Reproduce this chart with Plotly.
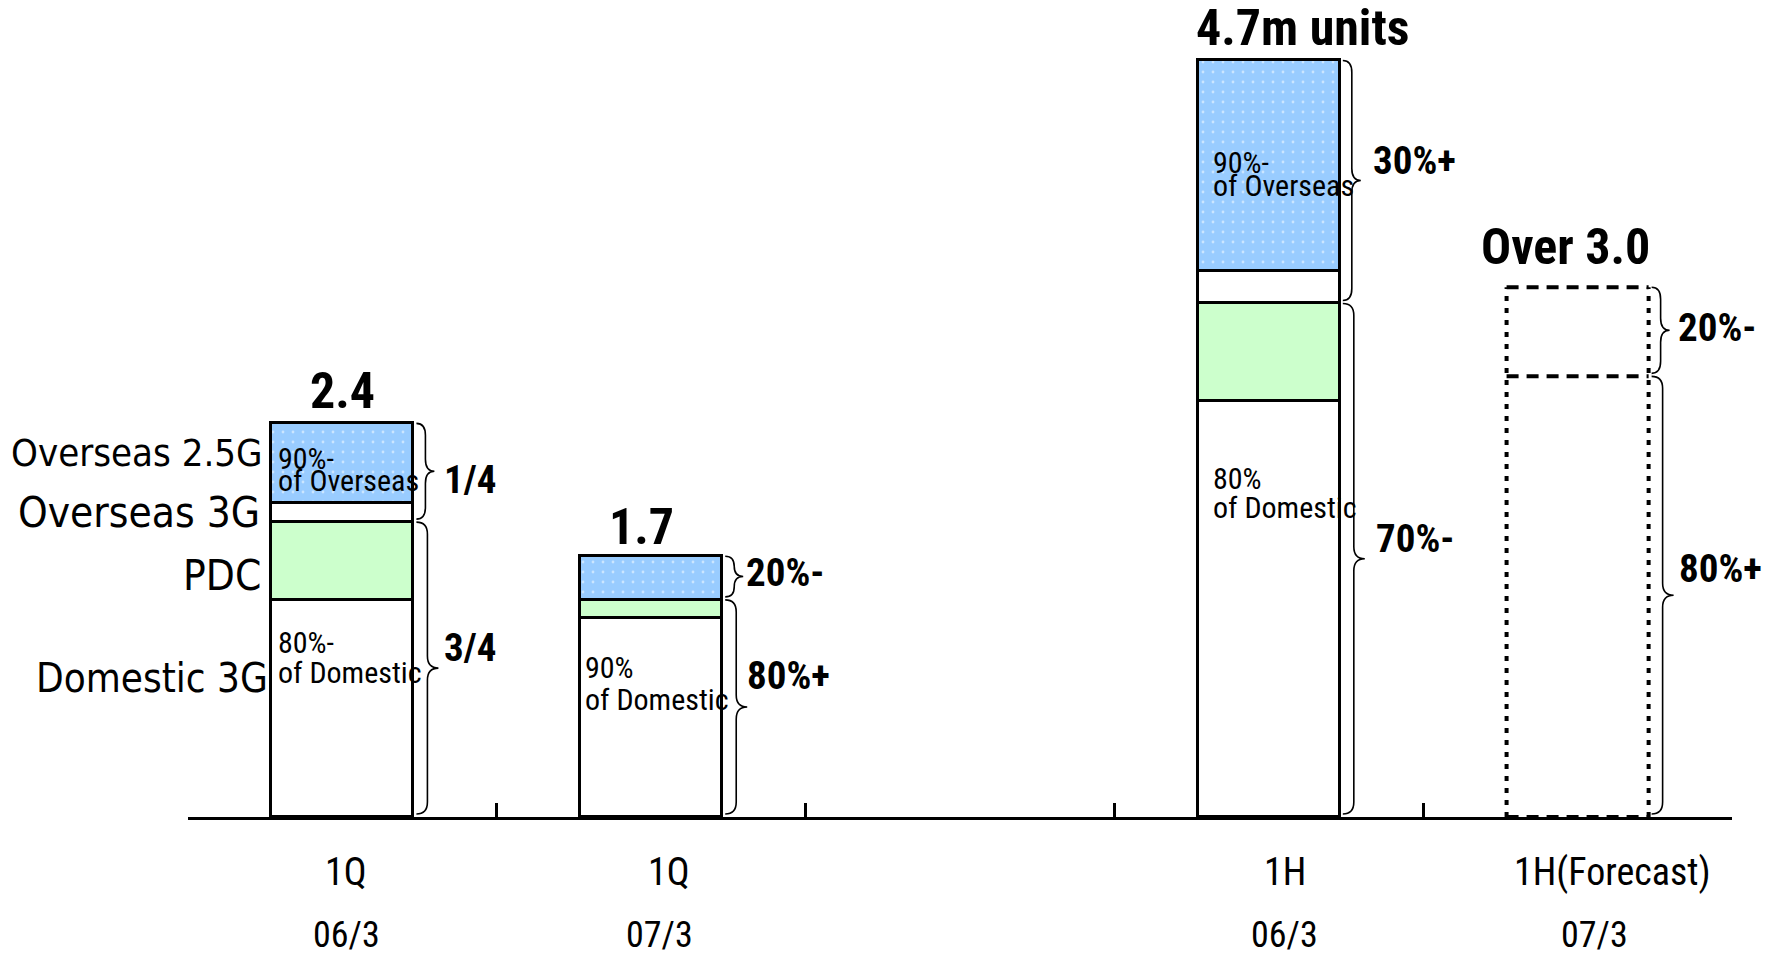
import plotly.graph_objects as go

# ---------------- data ----------------
periods = ["1Q", "1Q", "1H", "1H(Forecast)"]
years = ["06/3", "07/3", "06/3", "07/3"]
slots = [0, 1, 3, 4]          # slot on the axis (slot 2 is left empty)
n_slots = 5

domestic_3g = [1.34, 1.23, 2.57]
pdc = [0.48, 0.11, 0.60]
overseas_3g = [0.12, 0.0, 0.20]
overseas_25g = [0.49, 0.27, 1.30]
forecast_domestic = [2.72]
forecast_overseas = [0.55]

total_labels = ["2.4", "1.7", "4.7m units", "Over 3.0"]
upper_share = ["1/4", "20%-", "30%+", "20%-"]
lower_share = ["3/4", "80%+", "70%-", "80%+"]
series_names = ["Overseas 2.5G", "Overseas 3G", "PDC", "Domestic 3G"]
inside_notes = [
    ["90%-", "of Overseas", "80%-", "of Domestic"],
    [None, None, "90%", "of Domestic"],
    ["90%-", "of Overseas", "80%", "of Domestic"],
]

# ---------------- style ----------------
COND = "Roboto Condensed, DejaVu Sans Condensed, sans-serif"
WIDE = "DejaVu Sans Condensed, Roboto Condensed, sans-serif"
BLUE = "#99CCFF"
GREEN = "#CCFFCC"
BAR_W = 0.46
HALF = BAR_W / 2
PX_X = 308.8
PX_Y = 162.0
PLOT_H = 810.0

fig = go.Figure()
line = dict(color="black", width=3.5)
xs = slots[:3]
fig.add_trace(go.Bar(x=xs, y=domestic_3g, width=BAR_W, marker=dict(color="white", line=line), name="Domestic 3G"))
fig.add_trace(go.Bar(x=xs, y=pdc, width=BAR_W, marker=dict(color=GREEN, line=line), name="PDC"))
fig.add_trace(go.Bar(x=xs, y=overseas_3g, width=BAR_W, marker=dict(color="white", line=line), name="Overseas 3G"))
fig.add_trace(go.Bar(x=xs, y=overseas_25g, width=BAR_W,
                     marker=dict(color=BLUE, line=line,
                                 pattern=dict(shape=".", fgcolor="white", bgcolor=BLUE,
                                              size=10, solidity=0.06, fillmode="overlay")),
                     name="Overseas 2.5G"))
fx = [slots[3]]
fig.add_trace(go.Bar(x=fx, y=forecast_domestic, width=BAR_W,
                     marker=dict(color="rgba(0,0,0,0)", line=dict(width=0)), name="Forecast domestic"))
fig.add_trace(go.Bar(x=fx, y=forecast_overseas, width=BAR_W,
                     marker=dict(color="rgba(0,0,0,0)", line=dict(width=0)), name="Forecast overseas"))

shapes = []
fxc = slots[3]
f_split = forecast_domestic[0]
f_top = forecast_domestic[0] + forecast_overseas[0]
hdash = dict(color="black", width=4, dash="12px,8px")
vdot = dict(color="black", width=4, dash="5px,7px")
for y in (0, f_split, f_top):
    shapes.append(dict(type="line", xref="x", yref="y", x0=fxc - HALF, x1=fxc + HALF, y0=y, y1=y, line=hdash))
for xv in (fxc - HALF, fxc + HALF):
    shapes.append(dict(type="line", xref="x", yref="y", x0=xv, x1=xv, y0=0, y1=f_top, line=vdot))


def brace(xl, yt, yb, w, r):
    xm = xl + w / 2
    xt = xl + w
    ym = (yt + yb) / 2
    r = min(r, (yt - yb) / 4)
    return (f"M {xl},{yt} Q {xm},{yt} {xm},{yt - r} L {xm},{ym + r} "
            f"Q {xm},{ym} {xt},{ym} Q {xm},{ym} {xm},{ym - r} "
            f"L {xm},{yb + r} Q {xm},{yb} {xl},{yb}")


totals = [d + p + o3 + o25 for d, p, o3, o25 in zip(domestic_3g, pdc, overseas_3g, overseas_25g)] + [f_top]
splits = [d + p for d, p in zip(domestic_3g, pdc)] + [f_split]

gap = 3 / PX_X
for s, tot, sp in zip(slots, totals, splits):
    xl = s + HALF + gap
    shapes.append(dict(type="path", xref="x", yref="y", line=dict(color="black", width=1.6),
                       path=brace(xl, tot, sp + 3 / PX_Y, 18 / PX_X, 12 / PX_Y)))
    shapes.append(dict(type="path", xref="x", yref="y", line=dict(color="black", width=1.6),
                       path=brace(xl, sp, 3 / PX_Y, 22 / PX_X, 12 / PX_Y)))

ann = []
total_pos = [(0.0, 2.63), (0.97, 1.79), (3.11, 4.87), (3.96, 3.52)]
for lab, (x, y) in zip(total_labels, total_pos):
    ann.append(dict(x=x, y=y, text=f"<b>{lab}</b>", font=dict(family=COND, size=50, color="black"),
                    xanchor="center", yanchor="middle"))

upper_pos = [(0.3225, 2.080), (1.300, 1.506), (3.331, 4.049), (4.320, 3.019)]
lower_pos = [(0.3225, 1.043), (1.304, 0.870), (3.341, 1.716), (4.323, 1.531)]
for lab, (x, y) in zip(upper_share + lower_share, upper_pos + lower_pos):
    ann.append(dict(x=x, y=y, text=f"<b>{lab}</b>", font=dict(family=COND, size=39, color="black"),
                    xanchor="left", yanchor="middle"))

name_pos = [(-0.2506, 2.247), (-0.260, 1.877), (-0.257, 1.488), (-0.2345, 0.858)]
name_size = [38, 42, 42, 40]
for lab, (x, y), sz in zip(series_names, name_pos, name_size):
    ann.append(dict(x=x, y=y, text=lab, font=dict(family=WIDE, size=sz, color="black"),
                    xanchor="right", yanchor="middle"))

note_y = [(2.216, 2.080, 1.080, 0.889), (None, None, 0.925, 0.726), (4.040, 3.897, 2.089, 1.913)]
note_dx = [5, 3, 13]
for s, notes, ys, dx in zip(slots[:3], inside_notes, note_y, note_dx):
    for t, y in zip(notes, ys):
        if t is None:
            continue
        ann.append(dict(x=s - HALF, y=y, xshift=dx, text=t, font=dict(family=COND, size=30, color="black"),
                        xanchor="left", yanchor="middle"))

for a in ann:
    a["xref"] = "x"
    a["yref"] = "y"

period_dx = [4, 18, 16, 35]
year_dx = [4, 8, 16, 17]
for s, p, yr, dp, dy in zip(slots, periods, years, period_dx, year_dx):
    ann.append(dict(x=s, xref="x", y=-55 / PLOT_H, yref="paper", xshift=dp, text=p,
                    font=dict(family=COND, size=38, color="black"), xanchor="center", yanchor="middle"))
    ann.append(dict(x=s, xref="x", y=-118 / PLOT_H, yref="paper", xshift=dy, text=yr,
                    font=dict(family=COND, size=36, color="black"), xanchor="center", yanchor="middle"))

for a in ann:
    a["showarrow"] = False

fig.update_layout(
    width=1769, height=955,
    margin=dict(l=188, r=37, t=7, b=138),
    barmode="stack", bargap=0,
    showlegend=False,
    plot_bgcolor="white", paper_bgcolor="white",
    shapes=shapes, annotations=ann,
    xaxis=dict(range=[-0.5, n_slots - 0.5], showgrid=False, zeroline=False,
               showline=True, linecolor="black", linewidth=3,
               tickvals=[i - 0.5 for i in range(n_slots + 1)], ticks="inside",
               ticklen=14, tickwidth=3, tickcolor="black", showticklabels=False),
    yaxis=dict(range=[0, 5], visible=False),
)

fig.write_html("out.html")
